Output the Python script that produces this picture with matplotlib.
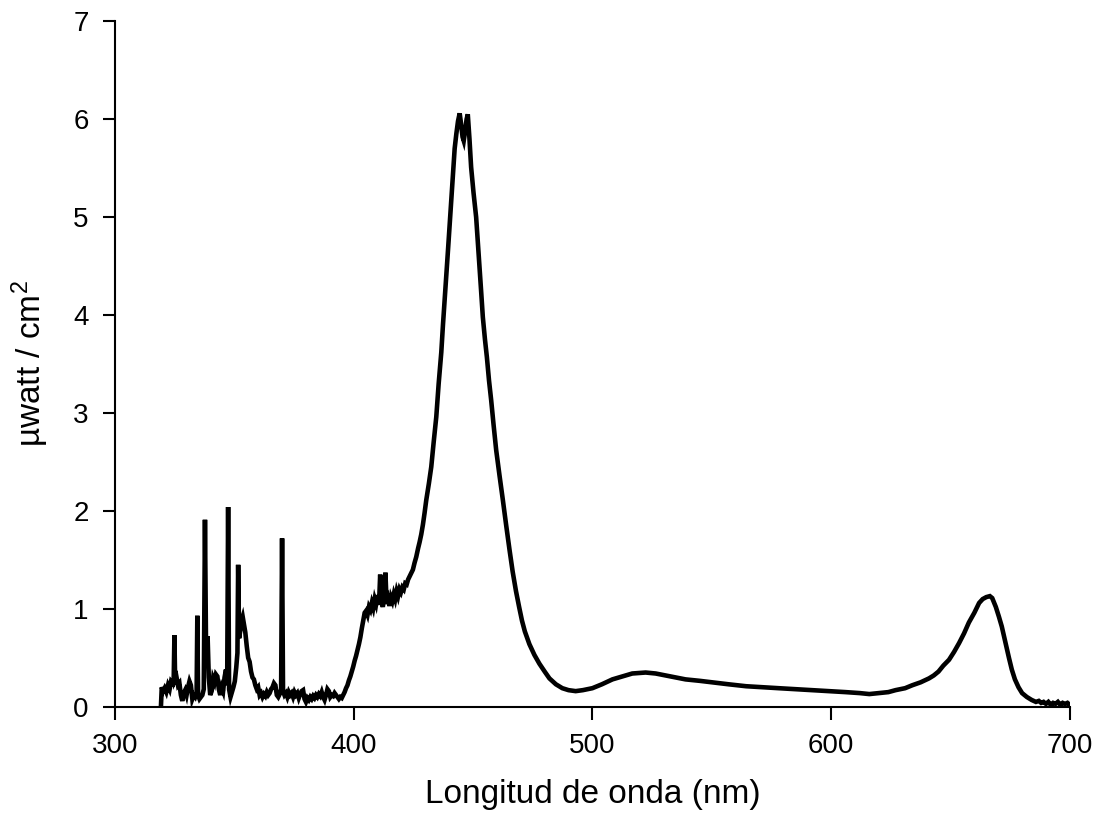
import matplotlib.pyplot as plt

plt.rcParams['font.family'] = ['Liberation Sans', 'DejaVu Sans']
plt.rcParams['mathtext.default'] = 'regular'

longitud = [
    319.3, 319.6, 320.2, 320.8, 321.5, 322.2, 322.9, 323.5, 324.2, 324.6, 324.9, 325.2,
    325.8, 326.4, 327.0, 327.6, 328.2, 328.8, 329.4, 330.0, 330.6, 331.2, 331.8, 332.4,
    333.0, 333.6, 334.2, 334.5, 334.8, 335.4, 336.0, 336.6, 337.2, 337.7, 338.2, 338.8,
    339.3, 339.9, 340.5, 341.1, 341.7, 342.3, 342.9, 343.5, 344.1, 344.7, 345.3, 345.9,
    346.5, 347.0, 347.4, 347.8, 348.4, 349.0, 349.6, 350.2, 350.8, 351.3, 351.6, 352.0,
    352.5, 353.0, 353.5, 354.0, 354.6, 355.2, 355.8, 356.4, 357.0, 357.6, 358.2, 358.8,
    359.4, 360.0, 360.6, 361.2, 361.8, 362.4, 363.0, 363.6, 364.2, 364.8, 365.4, 366.0,
    366.6, 367.2, 367.8, 368.4, 369.0, 369.6, 370.0, 370.4, 371.0, 371.6, 372.2, 372.8,
    373.4, 374.0, 374.6, 375.2, 375.8, 376.4, 377.0, 377.6, 378.2, 378.8, 379.4, 380.0,
    380.6, 381.2, 381.8, 382.4, 383.0, 383.6, 384.2, 384.8, 385.4, 386.0, 386.6, 387.2,
    387.8, 388.4, 389.0, 389.6, 390.2, 390.8, 391.4, 392.0, 392.6, 393.2, 393.8, 394.4,
    395.0, 395.6, 396.2, 396.8, 397.4, 398.0, 398.6, 399.2, 399.8, 400.4, 401.0, 401.6,
    402.2, 402.8, 403.4, 404.0, 404.6, 405.2, 405.8, 406.4, 407.0, 407.6, 408.2, 408.8,
    409.4, 410.0, 410.6, 411.1, 411.6, 412.2, 412.8, 413.3, 413.8, 414.4, 415.0, 415.6,
    416.2, 416.8, 417.4, 418.0, 418.6, 419.2, 419.8, 420.4, 421.0, 421.6, 422.2, 422.8,
    423.4, 424.0, 424.8, 425.5, 426.2, 427.0, 427.6, 428.3, 429.0, 429.7, 430.4, 431.5,
    432.5, 433.5, 434.6, 435.6, 436.7, 437.4, 438.1, 438.8, 439.5, 440.2, 440.9, 441.6,
    442.3, 443.0, 443.7, 444.4, 445.0, 445.6, 446.1, 446.7, 447.3, 447.8, 448.5, 449.2,
    450.2, 451.3, 452.0, 452.7, 453.4, 454.1, 455.0, 455.8, 456.7, 457.6, 458.6, 459.7,
    461.1, 462.5, 463.9, 465.3, 466.6, 468.0, 469.3, 470.5, 471.7, 473.6, 475.7, 477.8,
    480.0, 482.0, 484.7, 487.4, 490.0, 493.0, 496.0, 500.0, 504.0, 508.4, 512.5, 516.7,
    522.3, 526.5, 530.7, 535.0, 539.0, 545.0, 550.0, 557.0, 564.4, 571.0, 578.0, 585.0,
    592.0, 599.0, 606.0, 612.0, 616.0, 620.0, 624.0, 627.0, 631.0, 634.0, 637.5, 641.0,
    643.0, 645.0, 647.0, 649.4, 651.5, 653.6, 655.7, 657.7, 660.0, 662.0, 663.5, 665.0,
    666.5, 667.5, 669.0, 670.3, 671.5, 673.0, 674.5, 675.7, 677.0, 678.5, 680.0, 682.0,
    684.0, 685.8, 687.0, 688.0, 689.0, 690.0, 691.0, 692.0, 693.0, 694.0, 695.0, 696.0,
    697.0, 698.0, 699.0, 700.0,
]
potencia = [
    0.03, 0.20, 0.16, 0.19, 0.15, 0.22, 0.18, 0.26, 0.24, 0.28, 0.73, 0.27,
    0.30, 0.22, 0.24, 0.12, 0.06, 0.14, 0.17, 0.12, 0.20, 0.26, 0.22, 0.08,
    0.12, 0.10, 0.14, 0.93, 0.12, 0.08, 0.10, 0.12, 0.18, 1.91, 0.45, 0.72,
    0.30, 0.12, 0.16, 0.29, 0.25, 0.33, 0.31, 0.18, 0.12, 0.20, 0.16, 0.30,
    0.38, 0.22, 2.04, 0.18, 0.10, 0.15, 0.20, 0.26, 0.40, 0.55, 1.45, 0.70,
    0.78, 0.88, 0.92, 0.85, 0.76, 0.62, 0.50, 0.46, 0.36, 0.30, 0.28, 0.22,
    0.18, 0.20, 0.12, 0.14, 0.10, 0.13, 0.11, 0.15, 0.12, 0.14, 0.18, 0.20,
    0.24, 0.22, 0.12, 0.10, 0.13, 0.18, 1.72, 0.16, 0.12, 0.14, 0.10, 0.15,
    0.12, 0.14, 0.10, 0.15, 0.12, 0.14, 0.09, 0.13, 0.16, 0.17, 0.08, 0.05,
    0.09, 0.07, 0.10, 0.08, 0.11, 0.09, 0.12, 0.10, 0.13, 0.11, 0.15, 0.10,
    0.07, 0.12, 0.18, 0.16, 0.10, 0.12, 0.11, 0.14, 0.12, 0.10, 0.08, 0.10,
    0.09, 0.12, 0.15, 0.19, 0.22, 0.27, 0.31, 0.36, 0.41, 0.47, 0.52, 0.58,
    0.64, 0.71, 0.80, 0.88, 0.96, 0.98, 0.94, 1.02, 0.99, 1.06, 1.01, 1.10,
    1.05, 1.14, 1.04, 1.35, 1.08, 1.02, 1.12, 1.37, 1.05, 1.10, 1.03, 1.12,
    1.08, 1.15, 1.10, 1.18, 1.13, 1.20, 1.17, 1.22, 1.20, 1.26, 1.25, 1.30,
    1.33, 1.36, 1.40, 1.47, 1.53, 1.62, 1.68, 1.76, 1.86, 1.98, 2.11, 2.28,
    2.45, 2.70, 2.96, 3.30, 3.62, 3.90, 4.15, 4.40, 4.66, 4.92, 5.17, 5.45,
    5.70, 5.85, 5.98, 6.06, 5.95, 5.82, 5.78, 5.88, 6.00, 6.05, 5.80, 5.51,
    5.25, 5.00, 4.75, 4.49, 4.24, 3.98, 3.75, 3.57, 3.33, 3.13, 2.88, 2.62,
    2.36, 2.11, 1.85, 1.60, 1.38, 1.18, 1.02, 0.88, 0.77, 0.64, 0.53, 0.44,
    0.36, 0.29, 0.23, 0.19, 0.17, 0.16, 0.17, 0.19, 0.23, 0.28, 0.31, 0.34,
    0.35, 0.34, 0.32, 0.30, 0.28, 0.265, 0.25, 0.23, 0.21, 0.20, 0.19, 0.18,
    0.17, 0.16, 0.15, 0.14, 0.13, 0.14, 0.15, 0.17, 0.19, 0.22, 0.25, 0.29,
    0.32, 0.36, 0.42, 0.48, 0.56, 0.65, 0.75, 0.86, 0.96, 1.06, 1.10, 1.12,
    1.13, 1.11, 1.02, 0.92, 0.82, 0.66, 0.50, 0.38, 0.28, 0.20, 0.14, 0.10,
    0.07, 0.05, 0.06, 0.04, 0.05, 0.03, 0.05, 0.02, 0.04, 0.03, 0.05, 0.02,
    0.04, 0.03, 0.04, 0.02,
]

fig = plt.figure(figsize=(10.95, 8.19), dpi=100)
ax = fig.add_axes([0.105, 0.137, 0.872, 0.837])

ax.plot(longitud, potencia, color='black', linewidth=3.3, solid_joinstyle='miter')

ax.set_xlim(300, 700)
ax.set_ylim(0, 7)
ax.set_xticks([300, 400, 500, 600, 700])
ax.set_yticks(range(0, 8))

for lado in ['top', 'right']:
    ax.spines[lado].set_visible(False)
for lado in ['left', 'bottom']:
    ax.spines[lado].set_linewidth(1.5)

ax.tick_params(direction='out', length=9, width=1.5, labelsize=20, pad=10)

ax.set_xlabel('Longitud de onda (nm)', fontsize=24, labelpad=14)
ax.set_ylabel('µwatt / cm$^2$', fontsize=24, labelpad=16)

fig.savefig('out.png', dpi=100)
